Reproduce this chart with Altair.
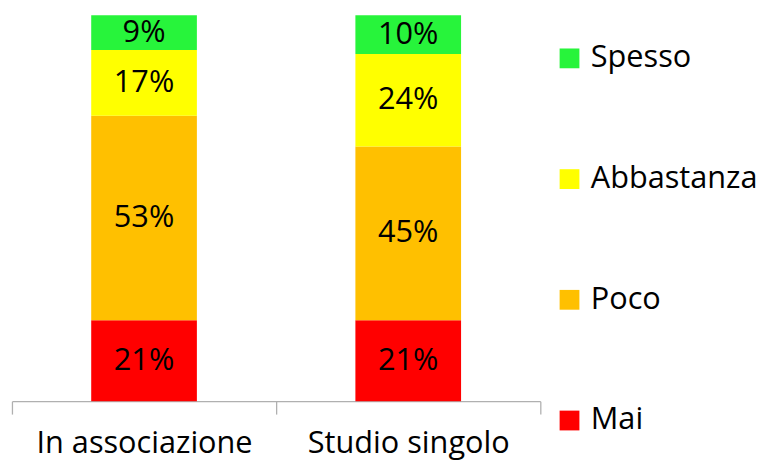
import altair as alt
import pandas as pd

categories = ["In associazione", "Studio singolo"]
series = ["Mai", "Poco", "Abbastanza", "Spesso"]
values_assoc = [21, 53, 17, 9]
values_singolo = [21, 45, 24, 10]
legend_order = ["Spesso", "Abbastanza", "Poco", "Mai"]
colors = ["#27F43B", "#FFFF00", "#FFC000", "#FF0000"]

rows = []
for cat, vals in zip(categories, [values_assoc, values_singolo]):
    for i, (s, v) in enumerate(zip(series, vals)):
        rows.append({"cat": cat, "serie": s, "val": v, "ord": i, "label": f"{v}%"})
df = pd.DataFrame(rows)

FONT = "Open Sans"

base = alt.Chart(df).transform_stack(
    stack="val", groupby=["cat"], as_=["y0", "y1"], sort=[alt.SortField("ord", order="ascending")]
).transform_calculate(mid="(datum.y0 + datum.y1) / 2")

xenc = alt.X(
    "cat:N",
    sort=categories,
    title=None,
    scale=alt.Scale(paddingInner=0, paddingOuter=0),
    axis=alt.Axis(
        labelAngle=0,
        labelFontSize=31,
        labelFont=FONT,
        labelColor="#000000",
        labelPadding=15,
        labelLimit=0,
        domainColor="#B0B0B0",
        tickColor="#B0B0B0",
        tickSize=13,
        tickBand="extent",
        domainWidth=1.3,
        tickWidth=1.3,
    ),
)

yscale = alt.Scale(domain=[0, 100], nice=False, zero=True)

bars = base.mark_bar(width=alt.RelativeBandSize(0.4)).encode(
    x=xenc,
    y=alt.Y("y0:Q", scale=yscale, axis=None),
    y2="y1:Q",
    color=alt.Color(
        "serie:N",
        scale=alt.Scale(domain=legend_order, range=colors),
        legend=alt.Legend(
            title=None,
            orient="none",
            legendX=548,
            legendY=28,
            symbolType="square",
            symbolSize=400,
            symbolStrokeWidth=0,
            labelFontSize=31,
            labelFont=FONT,
            labelColor="#000000",
            labelOffset=6,
            labelLimit=0,
            rowPadding=90,
            padding=0,
        ),
    ),
)

text = base.mark_text(fontSize=31, font=FONT, color="#000000", baseline="middle").encode(
    x=alt.X("cat:N", sort=categories),
    y=alt.Y("mid:Q", scale=yscale),
    text="label:N",
)

chart = (
    alt.layer(bars, text)
    .properties(
        width=534,
        height=390,
        padding={"left": 3, "top": 5, "right": 0, "bottom": 0},
        background="white",
    )
    .configure_view(stroke=None)
)

chart.save("out.html", embed_options={"renderer": "svg", "actions": False})
